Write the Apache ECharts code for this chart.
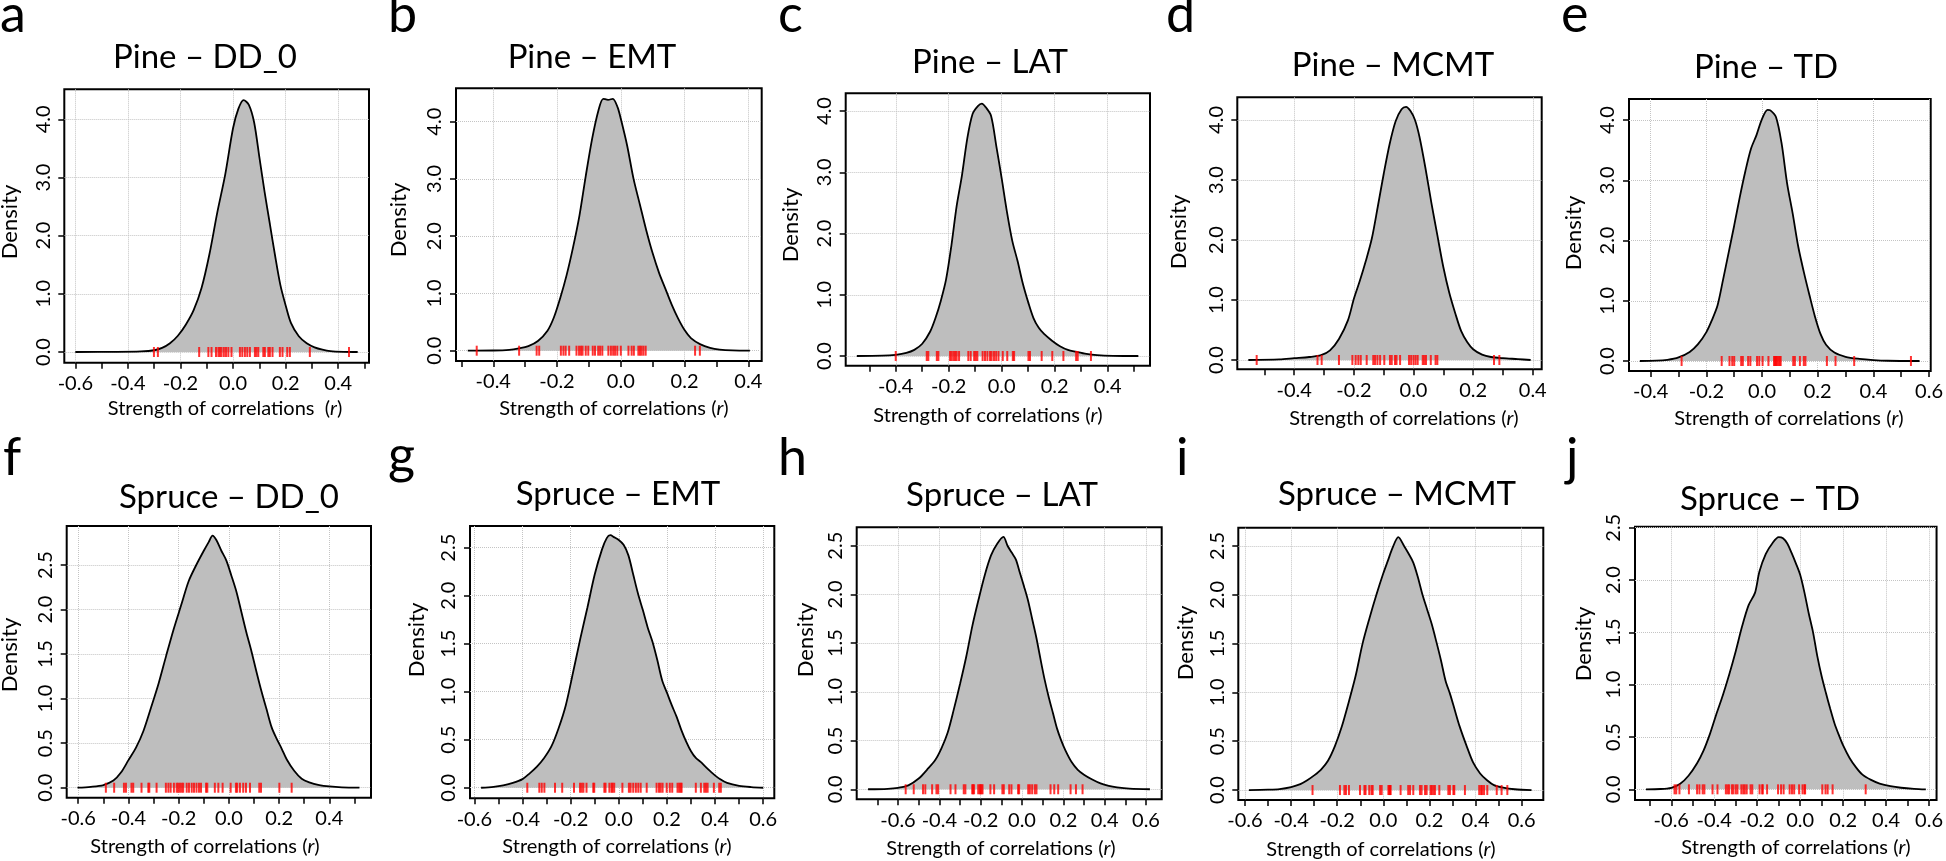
<!DOCTYPE html>
<html>
<head>
<meta charset="utf-8">
<script src="https://cdn.jsdelivr.net/npm/echarts@6/dist/echarts.min.js"></script>
<style>
html,body{margin:0;padding:0;background:#fff;}
#chart{width:1946px;height:861px;}
</style>
</head>
<body>
<div id="chart"></div>
<script>
// ---------------- DATA ----------------
const panelTitles = ['Pine \u2013 DD_0','Pine \u2013 EMT','Pine \u2013 LAT','Pine \u2013 MCMT','Pine \u2013 TD',
  'Spruce \u2013 DD_0','Spruce \u2013 EMT','Spruce \u2013 LAT','Spruce \u2013 MCMT','Spruce \u2013 TD'];
const panelLetters = ['a','b','c','d','e','f','g','h','i','j'];
const xTitles = ['Strength of correlations  (','Strength of correlations (','Strength of correlations (','Strength of correlations (','Strength of correlations (',
  'Strength of correlations (','Strength of correlations (','Strength of correlations (','Strength of correlations (','Strength of correlations ('];
const yTitle = 'Density';

// density curves (x, y)
const pineDD0X = [-0.60,-0.45,-0.35,-0.30,-0.27,-0.24,-0.21,-0.18,-0.15,-0.12,-0.09,-0.06,-0.03,0.00,0.02,0.04,0.06,0.08,0.10,0.12,0.14,0.16,0.18,0.20,0.22,0.25,0.28,0.31,0.34,0.37,0.42,0.474];
const pineDD0Y = [0,0.002,0.01,0.03,0.07,0.15,0.28,0.47,0.72,1.10,1.68,2.40,3.05,3.85,4.18,4.33,4.25,3.95,3.35,2.75,2.20,1.65,1.15,0.80,0.50,0.27,0.15,0.08,0.04,0.015,0.003,0];
const pineEMTX = [-0.48,-0.40,-0.35,-0.32,-0.29,-0.26,-0.23,-0.21,-0.19,-0.17,-0.15,-0.13,-0.11,-0.09,-0.07,-0.055,-0.04,-0.025,-0.01,0.00,0.02,0.04,0.06,0.08,0.10,0.12,0.14,0.16,0.18,0.20,0.22,0.25,0.28,0.31,0.35,0.405];
const pineEMTY = [0,0.003,0.015,0.04,0.08,0.17,0.35,0.58,0.92,1.32,1.80,2.35,3.05,3.70,4.20,4.40,4.38,4.40,4.25,4.05,3.58,3.00,2.55,2.10,1.70,1.36,1.08,0.80,0.56,0.36,0.22,0.11,0.05,0.02,0.005,0];
const pineLATX = [-0.547,-0.45,-0.40,-0.36,-0.33,-0.30,-0.27,-0.25,-0.23,-0.21,-0.19,-0.17,-0.15,-0.13,-0.11,-0.09,-0.075,-0.06,-0.04,-0.02,0.00,0.02,0.04,0.06,0.08,0.10,0.12,0.14,0.16,0.19,0.22,0.25,0.28,0.32,0.36,0.42,0.516];
const pineLATY = [0,0.005,0.02,0.05,0.10,0.20,0.40,0.62,0.90,1.25,1.80,2.45,2.95,3.55,3.95,4.08,4.12,4.06,3.92,3.42,2.90,2.35,1.88,1.55,1.18,0.88,0.62,0.46,0.36,0.25,0.16,0.10,0.07,0.035,0.015,0.004,0];
const pineMCMTX = [-0.554,-0.45,-0.40,-0.35,-0.31,-0.28,-0.25,-0.22,-0.20,-0.18,-0.16,-0.14,-0.12,-0.10,-0.08,-0.06,-0.04,-0.025,-0.01,0.005,0.02,0.04,0.06,0.08,0.10,0.12,0.14,0.16,0.18,0.20,0.23,0.26,0.30,0.35,0.393];
const pineMCMTY = [0,0.01,0.03,0.05,0.08,0.16,0.35,0.66,1.02,1.32,1.65,2.02,2.55,3.10,3.60,3.98,4.18,4.22,4.15,4.00,3.72,3.20,2.62,2.08,1.55,1.12,0.78,0.48,0.30,0.18,0.09,0.05,0.03,0.015,0];
const pineTDX = [-0.439,-0.38,-0.34,-0.30,-0.26,-0.23,-0.20,-0.18,-0.16,-0.14,-0.12,-0.10,-0.08,-0.06,-0.04,-0.02,0.00,0.02,0.03,0.05,0.07,0.09,0.11,0.13,0.15,0.17,0.19,0.21,0.23,0.26,0.30,0.35,0.40,0.45,0.566];
const pineTDY = [0,0.005,0.02,0.06,0.15,0.28,0.48,0.68,0.92,1.35,1.80,2.25,2.72,3.15,3.52,3.75,4.02,4.17,4.16,4.05,3.62,2.95,2.45,1.90,1.48,1.10,0.74,0.45,0.27,0.14,0.07,0.035,0.015,0.004,0];
const spruceDD0X = [-0.603,-0.55,-0.50,-0.46,-0.43,-0.40,-0.37,-0.34,-0.31,-0.28,-0.25,-0.22,-0.19,-0.16,-0.13,-0.10,-0.08,-0.065,-0.05,-0.03,-0.01,0.01,0.03,0.05,0.07,0.09,0.11,0.13,0.15,0.17,0.19,0.21,0.23,0.26,0.29,0.32,0.36,0.40,0.45,0.52];
const spruceDD0Y = [0,0.01,0.03,0.08,0.17,0.31,0.45,0.64,0.90,1.17,1.48,1.78,2.05,2.32,2.50,2.66,2.76,2.83,2.78,2.66,2.55,2.38,2.20,1.97,1.74,1.53,1.30,1.08,0.88,0.68,0.55,0.44,0.32,0.19,0.10,0.06,0.03,0.015,0.005,0];
const spruceEMTX = [-0.572,-0.52,-0.48,-0.44,-0.40,-0.37,-0.34,-0.31,-0.28,-0.25,-0.22,-0.19,-0.16,-0.13,-0.10,-0.07,-0.05,-0.035,-0.02,0.00,0.02,0.04,0.06,0.08,0.10,0.12,0.14,0.16,0.18,0.20,0.22,0.24,0.26,0.28,0.30,0.32,0.34,0.36,0.39,0.42,0.45,0.50,0.55,0.60];
const spruceEMTY = [0,0.01,0.025,0.05,0.09,0.15,0.22,0.31,0.43,0.62,0.86,1.20,1.55,1.88,2.22,2.48,2.60,2.63,2.61,2.58,2.53,2.42,2.22,2.02,1.85,1.67,1.52,1.33,1.12,0.99,0.86,0.74,0.60,0.48,0.38,0.31,0.27,0.22,0.15,0.09,0.05,0.02,0.007,0];
const spruceLATX = [-0.745,-0.65,-0.60,-0.55,-0.50,-0.46,-0.42,-0.39,-0.36,-0.33,-0.30,-0.27,-0.24,-0.21,-0.18,-0.15,-0.12,-0.09,-0.07,-0.05,-0.03,-0.01,0.01,0.03,0.05,0.07,0.09,0.11,0.13,0.15,0.17,0.19,0.21,0.24,0.27,0.30,0.34,0.38,0.42,0.46,0.52,0.619];
const spruceLATY = [0,0.005,0.015,0.04,0.11,0.20,0.30,0.42,0.58,0.82,1.08,1.36,1.68,1.95,2.20,2.40,2.52,2.59,2.50,2.43,2.36,2.22,2.08,1.93,1.74,1.55,1.33,1.12,0.94,0.78,0.62,0.50,0.40,0.28,0.20,0.15,0.10,0.06,0.035,0.02,0.007,0];
const spruceMCMTX = [-0.583,-0.50,-0.45,-0.40,-0.36,-0.33,-0.30,-0.27,-0.24,-0.21,-0.18,-0.15,-0.12,-0.09,-0.06,-0.03,0.00,0.02,0.04,0.065,0.09,0.11,0.13,0.15,0.17,0.19,0.21,0.23,0.25,0.27,0.29,0.31,0.33,0.36,0.39,0.42,0.45,0.48,0.52,0.57,0.643];
const spruceMCMTY = [0,0.004,0.01,0.03,0.06,0.10,0.15,0.21,0.30,0.45,0.65,0.90,1.17,1.50,1.76,2.00,2.22,2.35,2.48,2.59,2.50,2.42,2.33,2.18,2.00,1.85,1.70,1.52,1.33,1.12,0.98,0.82,0.66,0.46,0.28,0.17,0.10,0.05,0.024,0.008,0];
const spruceTDX = [-0.718,-0.65,-0.60,-0.56,-0.52,-0.48,-0.45,-0.42,-0.39,-0.36,-0.33,-0.30,-0.27,-0.24,-0.21,-0.19,-0.16,-0.13,-0.10,-0.08,-0.06,-0.04,-0.02,0.00,0.02,0.04,0.06,0.08,0.10,0.12,0.14,0.16,0.18,0.20,0.23,0.26,0.29,0.33,0.37,0.42,0.47,0.53,0.585];
const spruceTDY = [0,0.003,0.015,0.05,0.13,0.25,0.37,0.53,0.72,0.90,1.10,1.32,1.56,1.76,1.88,2.08,2.25,2.35,2.41,2.40,2.35,2.26,2.16,2.05,1.88,1.68,1.50,1.27,1.08,0.92,0.77,0.63,0.52,0.42,0.30,0.21,0.14,0.09,0.055,0.03,0.015,0.005,0];

// observed correlations (rug marks)
const pineDD0Rug = [-0.301,-0.286,-0.129,-0.094,-0.082,-0.065,-0.056,-0.050,-0.044,-0.035,-0.027,-0.018,-0.006,0.026,0.035,0.045,0.054,0.064,0.083,0.089,0.096,0.115,0.121,0.134,0.140,0.150,0.178,0.188,0.206,0.216,0.292,0.441];
const pineEMTRug = [-0.452,-0.319,-0.264,-0.256,-0.188,-0.180,-0.173,-0.162,-0.139,-0.131,-0.125,-0.120,-0.110,-0.102,-0.088,-0.081,-0.071,-0.065,-0.058,-0.039,-0.031,-0.024,-0.018,-0.011,0.000,0.024,0.034,0.041,0.055,0.060,0.065,0.071,0.078,0.233,0.248];
const pineLATRug = [-0.400,-0.283,-0.277,-0.245,-0.239,-0.195,-0.189,-0.182,-0.176,-0.170,-0.161,-0.126,-0.117,-0.104,-0.098,-0.092,-0.072,-0.063,-0.054,-0.044,-0.038,-0.029,-0.021,-0.012,0.004,0.021,0.042,0.047,0.101,0.107,0.151,0.191,0.233,0.281,0.287,0.337];
const pineMCMTRug = [-0.526,-0.322,-0.308,-0.250,-0.205,-0.194,-0.185,-0.177,-0.157,-0.135,-0.129,-0.121,-0.112,-0.098,-0.079,-0.073,-0.062,-0.057,-0.045,-0.015,-0.008,0.000,0.007,0.014,0.031,0.036,0.042,0.058,0.074,0.080,0.270,0.288];
const pineTDRug = [-0.289,-0.145,-0.117,-0.107,-0.100,-0.075,-0.069,-0.050,-0.042,-0.018,-0.010,0.002,0.023,0.043,0.047,0.050,0.054,0.059,0.063,0.067,0.112,0.118,0.136,0.150,0.156,0.233,0.264,0.331,0.535];
const spruceDD0Rug = [-0.490,-0.457,-0.418,-0.410,-0.388,-0.381,-0.348,-0.321,-0.317,-0.288,-0.251,-0.241,-0.232,-0.219,-0.208,-0.202,-0.195,-0.188,-0.182,-0.168,-0.159,-0.148,-0.139,-0.129,-0.119,-0.111,-0.091,-0.086,-0.056,-0.042,-0.025,0.007,0.028,0.033,0.044,0.057,0.068,0.084,0.121,0.128,0.201,0.250];
const spruceEMTRug = [-0.380,-0.330,-0.320,-0.309,-0.265,-0.235,-0.186,-0.161,-0.154,-0.147,-0.134,-0.106,-0.102,-0.060,-0.055,-0.039,-0.030,-0.026,-0.019,0.015,0.042,0.049,0.060,0.071,0.081,0.091,0.116,0.157,0.167,0.174,0.182,0.199,0.212,0.222,0.244,0.251,0.257,0.261,0.320,0.341,0.355,0.362,0.369,0.395,0.417,0.424];
const spruceLATRug = [-0.563,-0.524,-0.479,-0.468,-0.435,-0.414,-0.406,-0.346,-0.322,-0.282,-0.274,-0.241,-0.237,-0.232,-0.212,-0.204,-0.201,-0.196,-0.191,-0.153,-0.135,-0.095,-0.088,-0.062,-0.051,-0.019,-0.014,0.030,0.038,0.049,0.062,0.070,0.138,0.156,0.175,0.235,0.261,0.293];
const spruceMCMTRug = [-0.307,-0.188,-0.169,-0.162,-0.149,-0.101,-0.082,-0.077,-0.061,-0.051,-0.046,-0.014,-0.007,0.022,0.026,0.029,0.032,0.075,0.108,0.116,0.130,0.159,0.166,0.181,0.188,0.205,0.210,0.217,0.224,0.243,0.282,0.289,0.304,0.308,0.354,0.416,0.424,0.429,0.437,0.451,0.492,0.513,0.538];
const spruceTDRug = [-0.585,-0.577,-0.562,-0.518,-0.480,-0.469,-0.454,-0.446,-0.408,-0.385,-0.346,-0.338,-0.331,-0.318,-0.311,-0.300,-0.292,-0.274,-0.265,-0.258,-0.249,-0.231,-0.223,-0.189,-0.177,-0.174,-0.154,-0.103,-0.089,-0.077,-0.049,-0.038,-0.028,-0.005,0.011,0.020,0.023,0.103,0.118,0.128,0.151,0.305];

// tick marks (every 0.1 from start to end) and labelled / gridline values
const xTickStartEnd = [[-0.6,0.5],[-0.5,0.4],[-0.5,0.5],[-0.5,0.4],[-0.4,0.6],[-0.6,0.5],[-0.6,0.6],[-0.7,0.6],[-0.6,0.6],[-0.7,0.6]];
const xLabelValues = [
  [-0.6,-0.4,-0.2,0,0.2,0.4],[-0.4,-0.2,0,0.2,0.4],[-0.4,-0.2,0,0.2,0.4],[-0.4,-0.2,0,0.2,0.4],[-0.4,-0.2,0,0.2,0.4,0.6],
  [-0.6,-0.4,-0.2,0,0.2,0.4],[-0.6,-0.4,-0.2,0,0.2,0.4,0.6],[-0.6,-0.4,-0.2,0,0.2,0.4,0.6],[-0.6,-0.4,-0.2,0,0.2,0.4,0.6],[-0.6,-0.4,-0.2,0,0.2,0.4,0.6]];
const yLabelsPine = [0,1,2,3,4];
const yLabelsSpruce = [0,0.5,1,1.5,2,2.5];

// axis ranges (x min, x max, y min, y max)
const axisRanges = [
  [-0.642,0.517,-0.184,4.516],[-0.517,0.442,-0.180,4.583],[-0.589,0.560,-0.158,4.289],[-0.591,0.430,-0.155,4.378],[-0.478,0.606,-0.166,4.349],
  [-0.646,0.566,-0.112,2.938],[-0.618,0.646,-0.110,2.726],[-0.800,0.676,-0.103,2.689],[-0.629,0.694,-0.102,2.687],[-0.769,0.635,-0.102,2.510]];

// ---------------- LAYOUT ----------------
// plot boxes: left, top, right, bottom (px)
const boxes = [
  [64.3,89.3,369,362.7],[456,88.3,761.7,361],[845.7,93.3,1150,365.7],[1237.3,97.3,1541.7,369.3],[1629,99,1934,371],
  [66.7,526,371,797.7],[470,526,774.3,798.3],[856.7,527.3,1161.7,799.3],[1238.3,527.7,1543.3,800],[1635,526.7,1939.3,800]];
const titlePos = [[205,57],[592,57],[990,62],[1393,65],[1766,67],[229,497],[618,494],[1002,495],[1397,494],[1770,499]];
// letter: left x, baseline y
const letterPos = [[0,35],[388,35],[778,35],[1166,35],[1561,35],[3,478],[388,476],[778,478],[1176,478],[1566,478]];
const xTitlePos = [[225,409],[614,409],[988,416],[1404,419],[1789,419],[205,847],[617,847],[1001,849],[1381,850],[1796,848]];
const yTitlePos = [[10,222],[399,220],[791,225],[1179,232],[1574,233],[10,655],[417,640],[806,640],[1186,643],[1584,644]];

const curvesX = [pineDD0X,pineEMTX,pineLATX,pineMCMTX,pineTDX,spruceDD0X,spruceEMTX,spruceLATX,spruceMCMTX,spruceTDX];
const curvesY = [pineDD0Y,pineEMTY,pineLATY,pineMCMTY,pineTDY,spruceDD0Y,spruceEMTY,spruceLATY,spruceMCMTY,spruceTDY];
const rugs = [pineDD0Rug,pineEMTRug,pineLATRug,pineMCMTRug,pineTDRug,spruceDD0Rug,spruceEMTRug,spruceLATRug,spruceMCMTRug,spruceTDRug];

const FONT = 'Lato, "Open Sans", sans-serif';
const r1 = v => Math.round(v * 10) / 10;
function tickSeq(se) { const out = []; for (let k = Math.round(se[0]*10); k <= Math.round(se[1]*10); k++) out.push(r1(k/10)); return out; }
const fmt = v => (Math.abs(v) < 1e-9 ? 0 : v).toFixed(1);

const grids = [], xAxes = [], yAxes = [], series = [], graphics = [];
for (let i = 0; i < 10; i++) {
  const b = boxes[i], rg = axisRanges[i];
  grids.push({left: b[0], top: b[1], width: b[2]-b[0], height: b[3]-b[1], show: true,
    borderColor: '#000', borderWidth: 2, backgroundColor: '#fff', containLabel: false});
  const yVals = i < 5 ? yLabelsPine : yLabelsSpruce;
  // main x axis: ticks every 0.1, labels
  xAxes.push({gridIndex: i, type: 'value', min: rg[0], max: rg[1], position: 'bottom',
    axisLine: {show: false, onZero: false},
    axisTick: {show: true, length: 6, lineStyle: {color: '#000', width: 1.5}, customValues: tickSeq(xTickStartEnd[i])},
    axisLabel: {show: true, customValues: xLabelValues[i], formatter: fmt, margin: 11, color: '#000', fontFamily: FONT, fontSize: 20},
    splitLine: {show: false}});
  // grid x axis: vertical gridlines only
  xAxes.push({gridIndex: i, type: 'value', min: rg[0], max: rg[1], position: 'top',
    axisLine: {show: false, onZero: false},
    axisTick: {show: false, customValues: xLabelValues[i]},
    axisLabel: {show: false},
    splitLine: {show: true, lineStyle: {type: 'dotted', color: '#c4c4c4', width: 1}}});
  yAxes.push({gridIndex: i, type: 'value', min: rg[2], max: rg[3], position: 'left',
    axisLine: {show: false, onZero: false},
    axisTick: {show: true, length: 6, lineStyle: {color: '#000', width: 1.5}, customValues: yVals},
    axisLabel: {show: true, customValues: yVals, formatter: fmt, rotate: 90, margin: 11, color: '#000', fontFamily: FONT, fontSize: 20},
    splitLine: {show: true, lineStyle: {type: 'dotted', color: '#c4c4c4', width: 1}}});
  const cx = curvesX[i], cy = curvesY[i];
  series.push({type: 'line', xAxisIndex: 2*i, yAxisIndex: i, data: cx.map((x, k) => [x, cy[k]]),
    showSymbol: false, symbol: 'none', smooth: 0.3, silent: true, z: 2,
    lineStyle: {color: '#000', width: 1.8}, areaStyle: {color: '#bebebe', opacity: 1, origin: 0}});
  series.push({type: 'scatter', xAxisIndex: 2*i, yAxisIndex: i, data: rugs[i].map(x => [x, 0]),
    symbol: 'rect', symbolSize: [2, 10], itemStyle: {color: '#ff0000'}, silent: true, z: 3});

  graphics.push({type: 'text', x: titlePos[i][0], y: titlePos[i][1], silent: true,
    style: {text: panelTitles[i], fill: '#000', font: '33px ' + FONT, align: 'center', verticalAlign: 'middle'}});
  graphics.push({type: 'text', x: letterPos[i][0], y: letterPos[i][1] - 20, silent: true,
    style: {text: panelLetters[i], fill: '#000', font: '52px ' + FONT, align: 'left', verticalAlign: 'middle'}});
  graphics.push({type: 'text', x: xTitlePos[i][0], y: xTitlePos[i][1], silent: true,
    style: {text: '{n|' + xTitles[i] + '}{it|r}{n|)}', align: 'center', verticalAlign: 'middle',
      rich: {n: {fontFamily: FONT, fontSize: 20, color: '#000'}, it: {fontFamily: FONT, fontSize: 20, fontStyle: 'italic', color: '#000'}}}});
  graphics.push({type: 'text', x: yTitlePos[i][0], y: yTitlePos[i][1], rotation: Math.PI/2, silent: true,
    style: {text: yTitle, fill: '#000', font: '22px ' + FONT, align: 'center', verticalAlign: 'middle'}});
}

const chart = echarts.init(document.getElementById('chart'), null, {renderer: 'canvas', width: 1946, height: 861});
chart.setOption({
  animation: false,
  backgroundColor: '#fff',
  grid: grids, xAxis: xAxes, yAxis: yAxes, series: series,
  graphic: {elements: graphics}
});
</script>
</body>
</html>
